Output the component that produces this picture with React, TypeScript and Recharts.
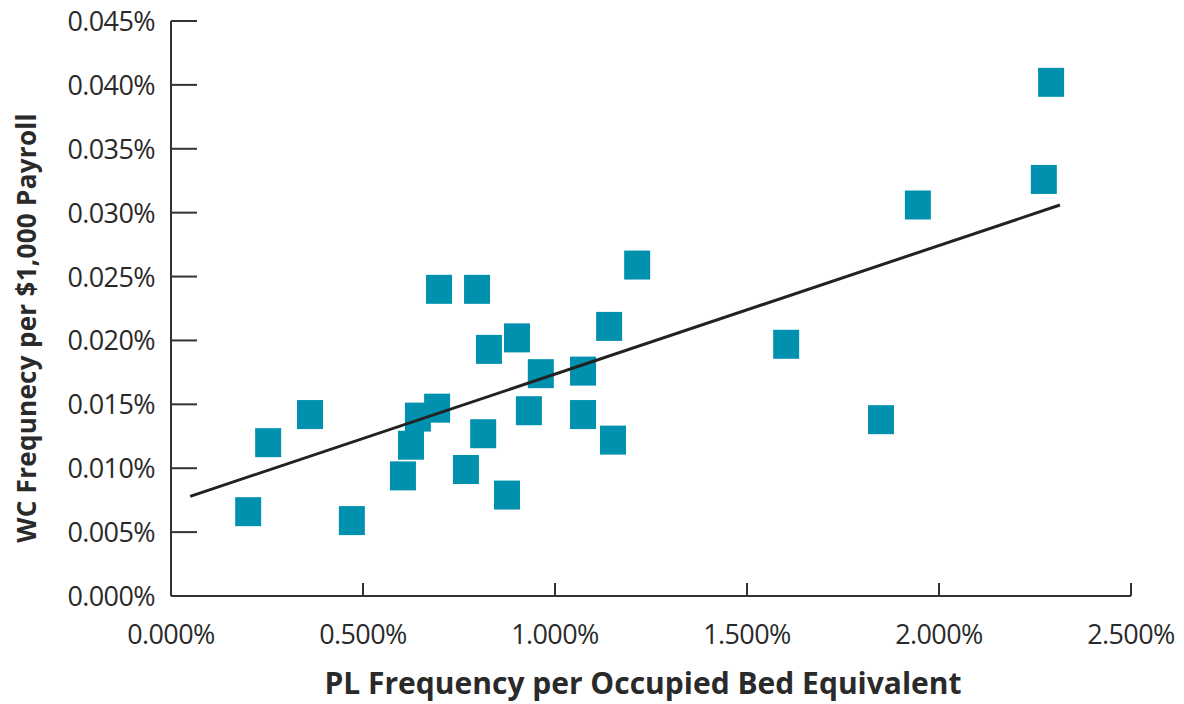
import React from 'react';
import { ScatterChart, Scatter, XAxis, YAxis } from 'recharts';

// PL frequency per occupied bed equivalent (%)
const plFrequency = [
  0.201, 0.253, 0.362, 0.471, 0.698, 0.797, 1.214, 1.141, 0.828, 0.901,
  0.963, 1.073, 0.693, 0.643, 0.625, 0.604, 0.813, 0.932, 0.768, 0.875,
  1.073, 1.151, 2.292, 2.273, 1.945, 1.602, 1.849,
];
// WC frequency per $1,000 payroll (%)
const wcFrequency = [
  0.0066, 0.0120, 0.0142, 0.0059, 0.0240, 0.0240, 0.0259, 0.0211, 0.0193, 0.0202,
  0.0174, 0.0176, 0.0147, 0.0140, 0.0118, 0.0094, 0.0127, 0.0145, 0.0099, 0.0079,
  0.0142, 0.0122, 0.0402, 0.0326, 0.0306, 0.0197, 0.0138,
];
// Trend line end points
const trendX = [0.05, 2.315];
const trendY = [0.0078, 0.0306];

const xTicks = [0, 0.5, 1.0, 1.5, 2.0, 2.5];
const yTicks = [0, 0.005, 0.01, 0.015, 0.02, 0.025, 0.03, 0.035, 0.04, 0.045];

const points = plFrequency.map((x, i) => ({ x, y: wcFrequency[i] }));
const trend = trendX.map((x, i) => ({ x, y: trendY[i] }));

const FONT = '"Open Sans", sans-serif';
const TEXT = '#2a2a2a';
const AXIS = '#333333';
const MARK = '#0091AE';

const SquareShape = (props: any) => {
  const { cx, cy } = props;
  if (cx == null || cy == null) return null;
  return <rect x={cx - 13} y={cy - 14.5} width={26} height={29} fill={MARK} />;
};

const YTick = (props: any) => {
  const { x, y, payload } = props;
  return (
    <g>
      <line x1={x} x2={x + 26} y1={y} y2={y} stroke={AXIS} strokeWidth={2} />
      <text x={x - 16} y={y} dy={10} textAnchor="end" fontFamily={FONT} fontSize={27} letterSpacing={-0.6} fill={TEXT}>
        {payload.value.toFixed(3)}%
      </text>
    </g>
  );
};

const XTick = (props: any) => {
  const { x, y, payload } = props;
  return (
    <g>
      <line x1={x} x2={x} y1={y} y2={y - 13} stroke={AXIS} strokeWidth={2} />
      <text x={x} y={y + 48} textAnchor="middle" fontFamily={FONT} fontSize={27} letterSpacing={-0.6} fill={TEXT}>
        {payload.value.toFixed(3)}%
      </text>
    </g>
  );
};

export default function App() {
  return (
    <div style={{ position: 'absolute', left: 0, top: 0, width: 1184, height: 704, background: '#fff' }}>
      <ScatterChart width={1184} height={704} margin={{ top: 21, right: 53, bottom: 0, left: 0 }}>
        <XAxis
          type="number"
          dataKey="x"
          domain={[0, 2.5]}
          ticks={xTicks}
          height={108}
          tickSize={0}
          tickMargin={0}
          tickLine={false}
          axisLine={{ stroke: AXIS, strokeWidth: 2 }}
          tick={<XTick />}
          interval={0}
        />
        <YAxis
          type="number"
          dataKey="y"
          domain={[0, 0.045]}
          ticks={yTicks}
          width={171}
          tickSize={0}
          tickMargin={0}
          tickLine={false}
          axisLine={{ stroke: AXIS, strokeWidth: 2 }}
          tick={<YTick />}
          interval={0}
        />
        <Scatter data={points} shape={<SquareShape />} isAnimationActive={false} />
        <Scatter
          data={trend}
          line={{ stroke: '#222', strokeWidth: 3 }}
          shape={() => null}
          isAnimationActive={false}
        />
        <text x={643} y={694} textAnchor="middle" fontFamily={FONT} fontWeight={700} fontSize={30} fill={TEXT}>
          PL Frequency per Occupied Bed Equivalent
        </text>
        <text
          x={36}
          y={328}
          transform="rotate(-90 36 328)"
          textAnchor="middle"
          fontFamily={FONT}
          fontWeight={700}
          fontSize={26}
          letterSpacing={0.3}
          fill={TEXT}
        >
          WC Frequnecy per $1,000 Payroll
        </text>
      </ScatterChart>
    </div>
  );
}
